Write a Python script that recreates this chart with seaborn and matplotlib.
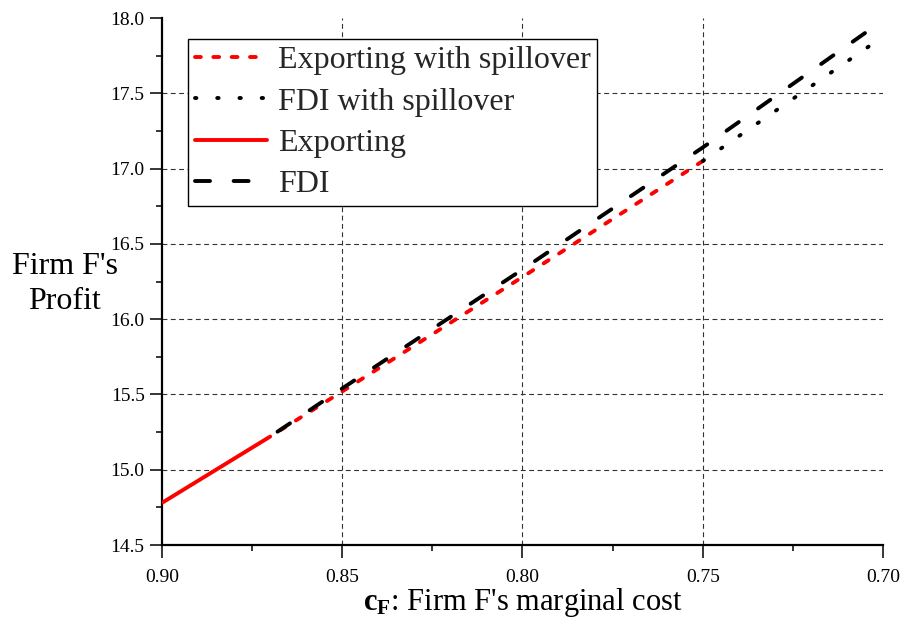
import matplotlib
matplotlib.use("Agg")
import matplotlib.pyplot as plt
from matplotlib.ticker import AutoMinorLocator, FixedLocator, StrMethodFormatter
import pandas as pd
import seaborn as sns

# Firm F's profit under each entry mode, against its marginal cost c_F
exporting_cost = [0.90, 0.87]
exporting_profit = [14.78, 15.22]

fdi_cost = [0.87, 0.85, 0.80, 0.75, 0.705]
fdi_profit = [15.22, 15.54, 16.33, 17.14, 17.90]

exporting_spill_cost = [0.87, 0.85, 0.80, 0.75]
exporting_spill_profit = [15.22, 15.52, 16.28, 17.05]

fdi_spill_cost = [0.75, 0.704]
fdi_spill_profit = [17.05, 17.81]

series_labels = ["Exporting with spillover", "FDI with spillover", "Exporting", "FDI"]

x_ticks = [0.90, 0.85, 0.80, 0.75, 0.70]
y_ticks = [14.5, 15.0, 15.5, 16.0, 16.5, 17.0, 17.5, 18.0]

sns.set_theme(style="ticks")
plt.rcParams["font.family"] = ["Liberation Serif", "DejaVu Serif"]
plt.rcParams["mathtext.fontset"] = "custom"
plt.rcParams["mathtext.rm"] = "Liberation Serif"
plt.rcParams["mathtext.bf"] = "Liberation Serif:bold"
plt.rcParams["lines.scale_dashes"] = False

frames = {
    series_labels[0]: pd.DataFrame({"cost": exporting_spill_cost, "profit": exporting_spill_profit}),
    series_labels[1]: pd.DataFrame({"cost": fdi_spill_cost, "profit": fdi_spill_profit}),
    series_labels[2]: pd.DataFrame({"cost": exporting_cost, "profit": exporting_profit}),
    series_labels[3]: pd.DataFrame({"cost": fdi_cost, "profit": fdi_profit}),
}
styles = {
    series_labels[0]: dict(color="#ff0000", linestyle=(0, (4.2, 9.0))),
    series_labels[1]: dict(color="black", linestyle=(0, (1.0, 15.0))),
    series_labels[2]: dict(color="#ff0000", linestyle="-"),
    series_labels[3]: dict(color="black", linestyle=(0, (10.8, 17.0))),
}

fig = plt.figure(figsize=(9.05, 6.25), dpi=100)
ax = fig.add_axes([162 / 905, 1 - 545 / 625, (883 - 162) / 905, (545 - 18) / 625])

# dashed reference grid at the interior major ticks
for v in x_ticks[1:-1]:
    ax.axvline(v, color="#333333", lw=0.8, linestyle=(0, (3.5, 2.5)), zorder=1)
for v in y_ticks[1:-1]:
    ax.axhline(v, color="#333333", lw=0.8, linestyle=(0, (3.5, 2.5)), zorder=1)

for name in series_labels:
    sns.lineplot(data=frames[name], x="cost", y="profit", ax=ax, label=name,
                 linewidth=2.8, dash_capstyle="round", solid_capstyle="round",
                 zorder=3, **styles[name])

ax.set_xlim(0.90, 0.70)
ax.set_ylim(14.5, 18.0)
ax.xaxis.set_major_locator(FixedLocator(x_ticks))
ax.yaxis.set_major_locator(FixedLocator(y_ticks))
ax.xaxis.set_minor_locator(AutoMinorLocator(2))
ax.yaxis.set_minor_locator(AutoMinorLocator(2))
ax.xaxis.set_major_formatter(StrMethodFormatter("{x:.2f}"))
ax.yaxis.set_major_formatter(StrMethodFormatter("{x:.1f}"))
ax.tick_params(which="major", direction="out", length=9, width=1.1,
               labelsize=14, color="black", labelcolor="black")
ax.tick_params(axis="x", which="major", pad=8)
ax.tick_params(axis="y", which="major", pad=3.5)
ax.tick_params(which="minor", direction="out", length=4.5, width=1.1, color="black")

sns.despine(ax=ax)
for side in ("left", "bottom"):
    ax.spines[side].set_linewidth(1.6)
    ax.spines[side].set_color("black")

ax.set_xlabel(r"$\mathbf{c_F}$: Firm F's marginal cost", fontsize=22, color="black", labelpad=0)
ax.set_ylabel("Firm F's\nProfit", fontsize=23, rotation=0, color="black",
              ha="center", va="center", linespacing=1.25)
ax.yaxis.set_label_coords(-0.135, 0.495)

leg = ax.legend(loc="upper left", bbox_to_anchor=(0.036, 0.960), borderaxespad=0,
                fontsize=23, frameon=True, fancybox=False, framealpha=1,
                edgecolor="black", handlelength=2.26, handletextpad=0.33,
                labelspacing=0.37, borderpad=0.22)
leg.get_frame().set_linewidth(1.0)

fig.savefig("out.png", dpi=100)
